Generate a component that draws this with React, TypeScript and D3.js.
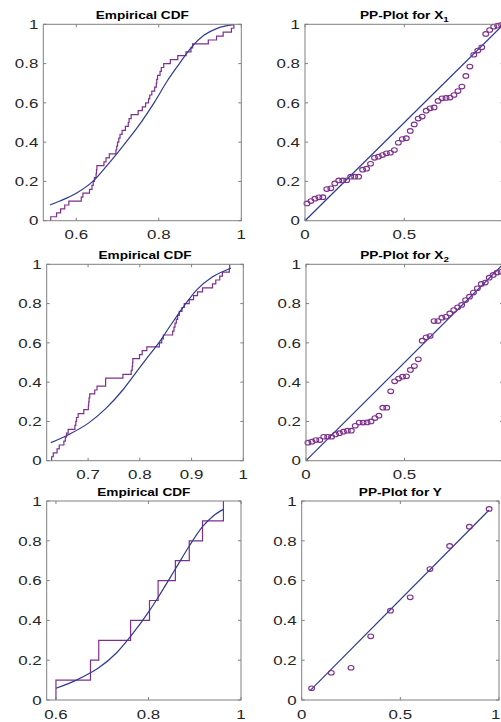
import React from "react";
import * as d3 from "d3";

// sorted samples
const x1Sample = [
  0.538, 0.552, 0.562, 0.572, 0.582, 0.612, 0.616, 0.632, 0.638, 0.641,
  0.644, 0.648, 0.649, 0.65, 0.667, 0.672, 0.68, 0.696, 0.698, 0.7,
  0.703, 0.706, 0.711, 0.719, 0.726, 0.728, 0.733, 0.75, 0.76, 0.768,
  0.775, 0.778, 0.783, 0.79, 0.794, 0.795, 0.797, 0.803, 0.806, 0.812,
  0.828, 0.846, 0.866, 0.878, 0.882, 0.92, 0.94, 0.956, 0.976, 0.982,
];
const x1FitX = [0.536, 0.56, 0.6, 0.64, 0.67, 0.7, 0.73, 0.76, 0.79, 0.82, 0.85, 0.88, 0.91, 0.94, 0.982];
const x1FitF = [0.08, 0.1, 0.14, 0.2, 0.27, 0.345, 0.425, 0.51, 0.605, 0.71, 0.8, 0.885, 0.945, 0.978, 0.998];
const x1PP = [
  0.088, 0.1, 0.112, 0.119, 0.12, 0.161, 0.165, 0.19, 0.205, 0.205,
  0.206, 0.224, 0.224, 0.224, 0.26, 0.265, 0.29, 0.32, 0.326, 0.334,
  0.343, 0.346, 0.36, 0.397, 0.416, 0.42, 0.457, 0.49, 0.52, 0.53,
  0.56, 0.572, 0.577, 0.61, 0.623, 0.625, 0.627, 0.64, 0.66, 0.683,
  0.737, 0.785, 0.845, 0.866, 0.883, 0.951, 0.971, 0.988, 0.993, 0.997,
];

const x2Sample = [
  0.6295, 0.6327, 0.64, 0.6442, 0.6532, 0.656, 0.6583, 0.6615, 0.6745, 0.6763,
  0.6776, 0.6808, 0.6917, 0.7005, 0.7012, 0.7019, 0.7032, 0.7128, 0.7173, 0.7338,
  0.734, 0.7673, 0.7833, 0.7853, 0.786, 0.7865, 0.7994, 0.8045, 0.8135, 0.8378,
  0.8423, 0.8455, 0.8635, 0.866, 0.868, 0.8705, 0.8731, 0.8763, 0.8814, 0.8859,
  0.8955, 0.9038, 0.9115, 0.9212, 0.9404, 0.9468, 0.9545, 0.9596, 0.973, 0.9737,
];
const x2FitX = [0.628, 0.66, 0.7, 0.734, 0.767, 0.79, 0.81, 0.838, 0.862, 0.886, 0.91, 0.94, 0.976];
const x2FitF = [0.092, 0.13, 0.19, 0.265, 0.36, 0.44, 0.51, 0.605, 0.7, 0.79, 0.87, 0.935, 0.98];
const x2PP = [
  0.092, 0.097, 0.105, 0.105, 0.122, 0.122, 0.122, 0.134, 0.14, 0.148,
  0.153, 0.153, 0.178, 0.194, 0.194, 0.195, 0.2, 0.217, 0.229, 0.27,
  0.27, 0.353, 0.404, 0.418, 0.428, 0.43, 0.462, 0.482, 0.516, 0.611,
  0.628, 0.635, 0.711, 0.711, 0.728, 0.733, 0.75, 0.767, 0.781, 0.793,
  0.818, 0.835, 0.856, 0.878, 0.9, 0.907, 0.932, 0.946, 0.958, 0.962,
];

const ySample = [0.6, 0.6746, 0.6925, 0.7613, 0.8022, 0.8208, 0.8581, 0.8882, 0.9168, 0.962];
const yFitX = [0.6, 0.644, 0.6746, 0.6925, 0.73, 0.7613, 0.8022, 0.8208, 0.8581, 0.8882, 0.9168, 0.94, 0.962];
const yFitF = [0.059, 0.1, 0.137, 0.162, 0.235, 0.32, 0.449, 0.516, 0.658, 0.774, 0.871, 0.925, 0.958];
const yPP = [0.059, 0.137, 0.162, 0.32, 0.449, 0.516, 0.658, 0.774, 0.871, 0.96];

const refX1 = [[0, 0], [1, 1]];
const refX2 = [[0, 0], [1, 1]];
const refY = [[0.045, 0.05], [0.95, 0.955]];

const probTicks = [0, 0.2, 0.4, 0.6, 0.8, 1];

const W = 501;
const PURPLE = "#7E2F8E";
const BLUE = "#2E3A94";
const AXIS = "#808080";
const FONT = "'Liberation Sans', Arial, Helvetica, sans-serif";
const SX = 1.3; // the figure is stretched horizontally

type Box = { left: number; right: number; top: number; bottom: number };

const Txt = ({ x, y, anchor, size, bold, children }: any) => (
  <text
    transform={`translate(${x},${y}) scale(${SX},1)`}
    textAnchor={anchor}
    fontSize={size}
    fontWeight={bold ? "bold" : "normal"}
    fill={bold ? "#000" : "#262626"}
    fontFamily={FONT}
  >
    {children}
  </text>
);

const Frame = ({ box, x, y, xTicks, title }: { box: Box; x: any; y: any; xTicks: number[]; title: any }) => {
  const fmt = (d: number) => String(d);
  const tl = 3;
  return (
    <g>
      <rect x={box.left} y={box.top} width={box.right - box.left} height={box.bottom - box.top} fill="none" stroke={AXIS} strokeWidth={1} />
      {xTicks.map((t) => {
        const px = x(t);
        // labels past the figure's right edge are not shown
        const label = px > W ? null : px + 4 > W ? (
          <Txt x={W - 0.5} y={box.bottom + 18.6} anchor="end" size={13}>{fmt(t)}</Txt>
        ) : (
          <Txt x={px} y={box.bottom + 18.6} anchor="middle" size={13}>{fmt(t)}</Txt>
        );
        return (
          <g key={"x" + t}>
            <line x1={px} x2={px} y1={box.bottom} y2={box.bottom - tl} stroke={AXIS} />
            <line x1={px} x2={px} y1={box.top} y2={box.top + tl} stroke={AXIS} />
            {label}
          </g>
        );
      })}
      {probTicks.map((t) => (
        <g key={"y" + t}>
          <line x1={box.left} x2={box.left + tl} y1={y(t)} y2={y(t)} stroke={AXIS} />
          <line x1={box.right} x2={box.right - tl} y1={y(t)} y2={y(t)} stroke={AXIS} />
          <Txt x={box.left - 5} y={y(t) + 4.7} anchor="end" size={13}>{fmt(t)}</Txt>
        </g>
      ))}
      <Txt x={(box.left + box.right) / 2} y={box.top - 5} anchor="middle" size={10.5} bold>{title}</Txt>
    </g>
  );
};

const CdfPanel = ({ box, domain, xTicks, sample, fitX, fitF }: any) => {
  const x = d3.scaleLinear().domain(domain).range([box.left, box.right]);
  const y = d3.scaleLinear().domain([0, 1]).range([box.bottom, box.top]);
  const n = sample.length;
  const steps: [number, number][] = [[sample[0], 0], ...sample.map((v: number, i: number) => [v, (i + 1) / n] as [number, number])];
  const stair = d3.line<[number, number]>().x((d) => x(d[0])).y((d) => y(d[1])).curve(d3.curveStepAfter);
  const fit = d3.line<number>().x((d) => x(d)).y((_, i) => y(fitF[i])).curve(d3.curveMonotoneX);
  return (
    <g>
      <path d={stair(steps) || ""} fill="none" stroke={PURPLE} strokeWidth={1.2} />
      <path d={fit(fitX) || ""} fill="none" stroke={BLUE} strokeWidth={1.2} />
      <Frame box={box} x={x} y={y} xTicks={xTicks} title="Empirical CDF" />
    </g>
  );
};

const PPPanel = ({ box, pp, ref, title }: any) => {
  const x = d3.scaleLinear().domain([0, 1]).range([box.left, box.right]);
  const y = d3.scaleLinear().domain([0, 1]).range([box.bottom, box.top]);
  const n = pp.length;
  const line = d3.line<number[]>().x((d) => x(d[0])).y((d) => y(d[1]));
  return (
    <g>
      <path d={line(ref) || ""} fill="none" stroke={BLUE} strokeWidth={1.2} />
      {pp.map((v: number, i: number) => (
        <ellipse key={i} cx={x((i + 0.5) / n)} cy={y(v)} rx={2.9} ry={2.3} fill="none" stroke={PURPLE} strokeWidth={1.1} />
      ))}
      <Frame box={box} x={x} y={y} xTicks={[0, 0.5, 1]} title={title} />
    </g>
  );
};

const sub = (name: string, s: string) => (
  <>
    {name}
    <tspan fontSize={7.5} dy={3}>{s}</tspan>
  </>
);

export default function App() {
  return (
    <svg width={W} height={722} style={{ position: "absolute", left: 0, top: 0, background: "#fff" }}>
      <CdfPanel box={{ left: 43.3, right: 241.3, top: 24.3, bottom: 220.7 }} domain={[0.52, 1]} xTicks={[0.6, 0.8, 1]}
        sample={x1Sample} fitX={x1FitX} fitF={x1FitF} />
      <PPPanel box={{ left: 305, right: 503.6, top: 24.3, bottom: 220.7 }} pp={x1PP} ref={refX1} title={sub("PP-Plot for X", "1")} />
      <CdfPanel box={{ left: 46.7, right: 243.3, top: 264.3, bottom: 460.7 }} domain={[0.62, 1]} xTicks={[0.7, 0.8, 0.9, 1]}
        sample={x2Sample} fitX={x2FitX} fitF={x2FitF} />
      <PPPanel box={{ left: 306, right: 503, top: 264.3, bottom: 460.7 }} pp={x2PP} ref={refX2} title={sub("PP-Plot for X", "2")} />
      <CdfPanel box={{ left: 46.7, right: 241, top: 501, bottom: 700 }} domain={[0.58, 1]} xTicks={[0.6, 0.8, 1]}
        sample={ySample} fitX={yFitX} fitF={yFitF} />
      <PPPanel box={{ left: 301.7, right: 499, top: 501, bottom: 700 }} pp={yPP} ref={refY} title="PP-Plot for Y" />
    </svg>
  );
}
